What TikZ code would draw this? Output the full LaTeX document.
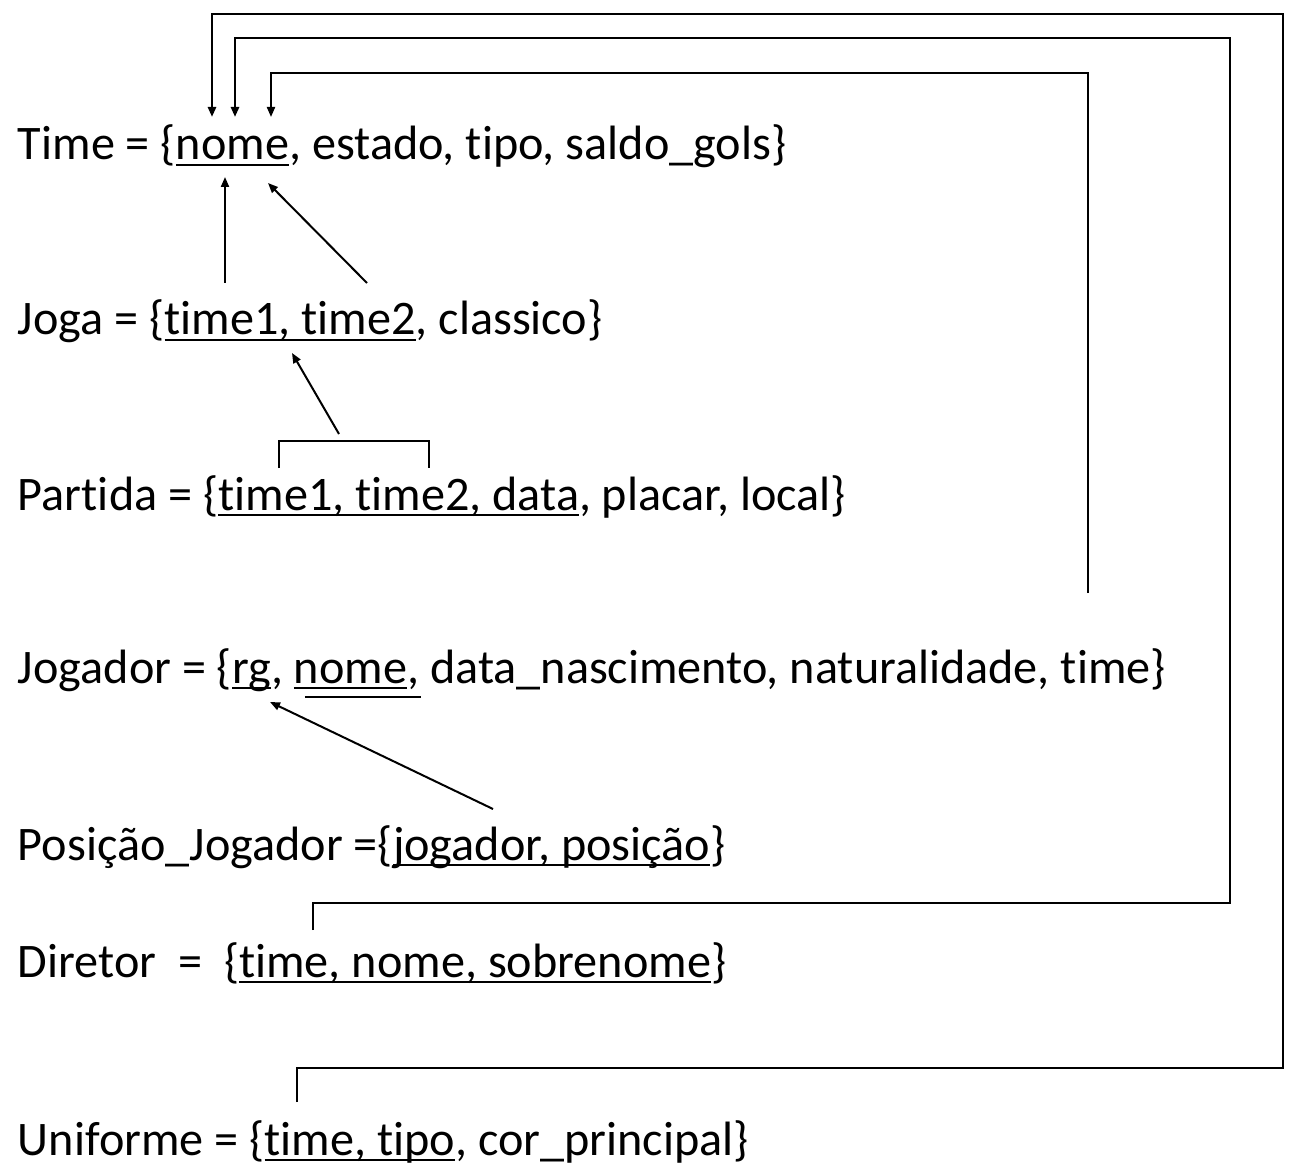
\documentclass[tikz,border=0pt]{standalone}
\usepackage{fontspec}
\setmainfont{Carlito}[Ligatures={NoCommon}]
\usetikzlibrary{arrows.meta,calc}
\begin{document}
\begin{tikzpicture}[x=0.5pt,y=-0.5pt,
  txt/.style={inner sep=0pt,outer sep=0pt,anchor=base west,font=\fontsize{24.1}{29}\selectfont},
  ul/.style={line width=1.4pt},
  conn/.style={line width=1.4pt},
  thin/.style={line width=1pt},
  tip/.style={-{Triangle[length=5pt,width=4pt]}}]
\useasboundingbox (0,0) rectangle (1300,1176);
% Time
\node[txt] (ta) at (18,160) {Time = \{};
\node[txt] (tk) at (ta.base east) {nome};
\node[txt] (tb) at (tk.base east) {,\ estado, tipo, saldo\_gols\}};
% Joga
\node[txt] (ja) at (18,335) {Joga = \{};
\node[txt] (jk) at (ja.base east) {time1, time2};
\node[txt] (jb) at (jk.base east) {,\ classico\}};
% Partida
\node[txt] (pa) at (18,510) {Partida = \{};
\node[txt] (pk) at (pa.base east) {time1, time2, data};
\node[txt] (pb) at (pk.base east) {,\ placar, local\}};
% Jogador
\node[txt] (ga) at (18,683) {Jogador = \{};
\node[txt] (gk) at (ga.base east) {rg};
\node[txt] (gc) at (gk.base east) {,\ \null};
\node[txt] (gn) at (gc.base east) {nome};
\node[txt] (gm) at (gn.base east) {,};
\node[txt] (gb) at (gm.base east) {\ data\_nascimento, naturalidade, time\}};
% Posicao
\node[txt] (sa) at (18,860) {Posição\_Jogador =\{};
\node[txt] (sk) at (sa.base east) {jogador, posição};
\node[txt] (sb) at (sk.base east) {\}};
% Diretor
\node[txt] (da) at (18,977) {Diretor \ = \ \{};
\node[txt] (dk) at (da.base east) {time, nome, sobrenome};
\node[txt] (db) at (dk.base east) {\}};
% Uniforme
\node[txt] (ua) at (18,1155) {Uniforme = \{};
\node[txt] (uk) at (ua.base east) {time, tipo};
\node[txt] (ub) at (uk.base east) {,\ cor\_principal\}};
% underlines
\foreach \n in {tk,jk,pk,gk,gn,sk,dk,uk}
  \draw[ul] ($(\n.base west)+(0,5)$) -- ($(\n.base east)+(0,5)$);
\draw[ul] ($(gn.base west)+(11,14)$) -- ($(gm.base east)+(2,14)$);
% coordinates
\coordinate (t1) at (212,117);
\coordinate (t2) at (235,117);
\coordinate (t3) at (271,117);
\coordinate (uend) at (297,1102);
\coordinate (dend) at (313,930);
\coordinate (gend) at (1088,593);
% long connectors
\draw[conn,tip] (uend) -- (297,1068) -- (1283,1068) -- (1283,14) -- (212,14) -- (t1);
\draw[conn,tip] (dend) -- (313,903) -- (1230,903) -- (1230,38) -- (235,38) -- (t2);
\draw[thin,tip] (gend) -- (1088,73) -- (271,73) -- (t3);
% Joga -> Time
\coordinate (j1) at (225,283);
\coordinate (j2) at (367,283);
\coordinate (tt1) at (225,177);
\coordinate (tt2) at (268,183);
\draw[thin,tip] (j1) -- (tt1);
\draw[thin,tip] (j2) -- (tt2);
% Partida -> Joga
\coordinate (pl) at (279,468);
\coordinate (pr) at (429,468);
\coordinate (pm) at (339,434);
\coordinate (jt) at (292,353);
\draw[thin] (pl) -- (279,441) -- (429,441) -- (pr);
\draw[thin,tip] (pm) -- (jt);
% Posicao -> Jogador
\coordinate (s1) at (493,809);
\coordinate (g1) at (270,702);
\draw[thin,tip] (s1) -- (g1);
\end{tikzpicture}
\end{document}
